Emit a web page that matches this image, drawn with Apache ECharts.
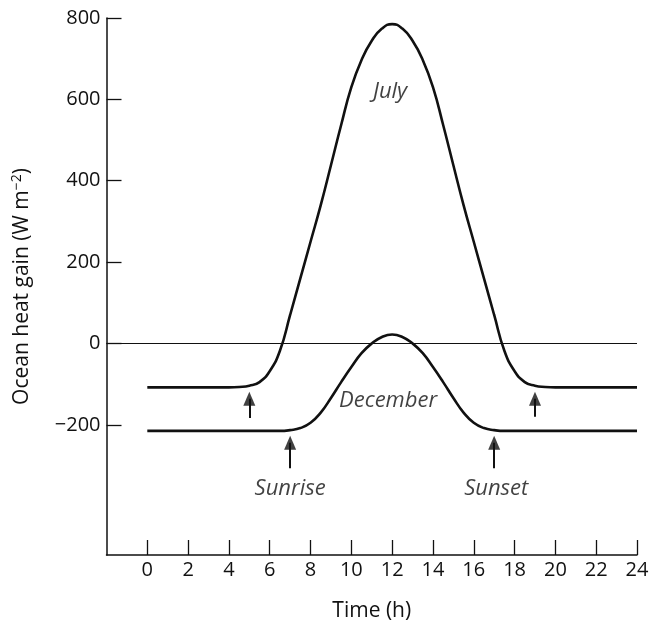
<!DOCTYPE html>
<html>
<head>
<meta charset="utf-8">
<script src="https://cdn.jsdelivr.net/npm/echarts@6/dist/echarts.min.js"></script>
<style>
  html, body { margin: 0; padding: 0; background: #fff; }
  #chart { width: 651px; height: 621px; }
</style>
</head>
<body>
<div id="chart"></div>
<script>
// Hour of day, every half hour
const hours = [];
for (let i = 0; i <= 48; i++) hours.push(i / 2);

// Ocean heat gain, W m^-2, at each half hour
const julyGain = [
  -108, -108, -108, -108, -108, -108, -108, -108, -108,
  -107, -104, -95, -68, -18, 70, 160, 250, 340, 438, 537,
  630, 697, 744, 774, 785, 774, 744, 697, 630, 537, 438,
  340, 250, 160, 70, -18, -68, -95, -104, -107,
  -108, -108, -108, -108, -108, -108, -108, -108, -108
];
const decemberGain = [
  -215, -215, -215, -215, -215, -215, -215, -215, -215, -215, -215, -215, -215,
  -215, -213, -208, -195, -170, -134, -95, -58, -24, 0, 16, 22,
  16, 0, -24, -58, -95, -134, -170, -195, -208, -213, -215,
  -215, -215, -215, -215, -215, -215, -215, -215, -215, -215, -215, -215, -215
];

// Axis ticks
const xTicks = [0, 2, 4, 6, 8, 10, 12, 14, 16, 18, 20, 22, 24];
const yTicks = [-200, 0, 200, 400, 600, 800];

// Sunrise / sunset arrows: [hour, tail value, head value]
const arrows = [
  [5, -183, -136],
  [19, -180, -136],
  [7, -307, -244],
  [17, -307, -244]
];

// Text annotations: [hour, value, text]
const notes = [
  [11.9, 618, 'July'],
  [11.8, -142, 'December'],
  [7.0, -356, 'Sunrise'],
  [17.1, -356, 'Sunset']
];

const ink = '#111111';
const font = 'Open Sans';

const chart = echarts.init(document.getElementById('chart'), null, { renderer: 'canvas' });

const curveStyle = { color: ink, width: 2.6 };

chart.setOption({
  backgroundColor: '#ffffff',
  animation: false,
  grid: { left: 106.5, right: 14, top: 18, bottom: 66, outerBoundsMode: 'none', containLabel: false },
  xAxis: {
    type: 'value',
    min: -2,
    max: 24,
    interval: 2,
    name: 'Time (h)',
    nameLocation: 'middle',
    nameGap: 46,
    nameTextStyle: { fontFamily: font, fontSize: 21, color: ink },
    axisLine: { onZero: false, lineStyle: { color: ink, width: 1.5 } },
    axisTick: { inside: true, length: 15, customValues: xTicks, lineStyle: { color: ink, width: 1.3 } },
    axisLabel: { customValues: xTicks, margin: 5, fontFamily: font, fontSize: 20, color: ink },
    splitLine: { show: false }
  },
  yAxis: {
    type: 'value',
    min: -520,
    max: 800,
    name: 'Ocean heat gain (W m{sup|−2})',
    nameLocation: 'middle',
    nameRotate: 90,
    nameGap: 73,
    nameTextStyle: {
      fontFamily: font, fontSize: 21, color: ink,
      rich: { sup: { fontFamily: font, fontSize: 14, color: ink, verticalAlign: 'top', padding: [0, 0, 9, 0] } }
    },
    axisLine: { onZero: false, lineStyle: { color: ink, width: 1.5 } },
    axisTick: { inside: true, length: 15, customValues: yTicks, lineStyle: { color: ink, width: 1.3 } },
    axisLabel: {
      customValues: yTicks, margin: 6, fontFamily: font, fontSize: 20, color: ink,
      formatter: v => (v < 0 ? '−' + Math.abs(v) : String(v))
    },
    splitLine: { show: false }
  },
  series: [
    {
      name: 'July',
      type: 'line',
      data: hours.map((h, i) => [h, julyGain[i]]),
      smooth: 0.5,
      showSymbol: false,
      lineStyle: curveStyle,
      z: 3,
      markLine: {
        silent: true,
        symbol: 'none',
        label: { show: false },
        lineStyle: { color: ink, width: 1.2, type: 'solid' },
        data: [{ yAxis: 0 }]
      }
    },
    {
      name: 'December',
      type: 'line',
      data: hours.map((h, i) => [h, decemberGain[i]]),
      smooth: 0.5,
      showSymbol: false,
      lineStyle: curveStyle,
      z: 3,
      markLine: {
        silent: true,
        symbol: 'none',
        label: { show: false },
        lineStyle: { color: ink, width: 2, type: 'solid' },
        data: arrows.map(a => [{ coord: [a[0], a[1]] }, { coord: [a[0], a[2]] }])
      }
    },
    {
      name: 'arrowheads',
      type: 'scatter',
      silent: true,
      symbol: 'triangle',
      symbolSize: [12, 14],
      itemStyle: { color: ink },
      data: arrows.map(a => [a[0], a[2]]),
      z: 4
    },
    {
      name: 'notes',
      type: 'scatter',
      symbolSize: 0,
      silent: true,
      data: notes.map(n => ({ value: [n[0], n[1]], name: n[2] })),
      label: {
        show: true,
        position: 'inside',
        formatter: p => p.name,
        fontFamily: font,
        fontStyle: 'italic',
        fontSize: 22,
        color: ink
      }
    }
  ]
});
</script>
</body>
</html>
